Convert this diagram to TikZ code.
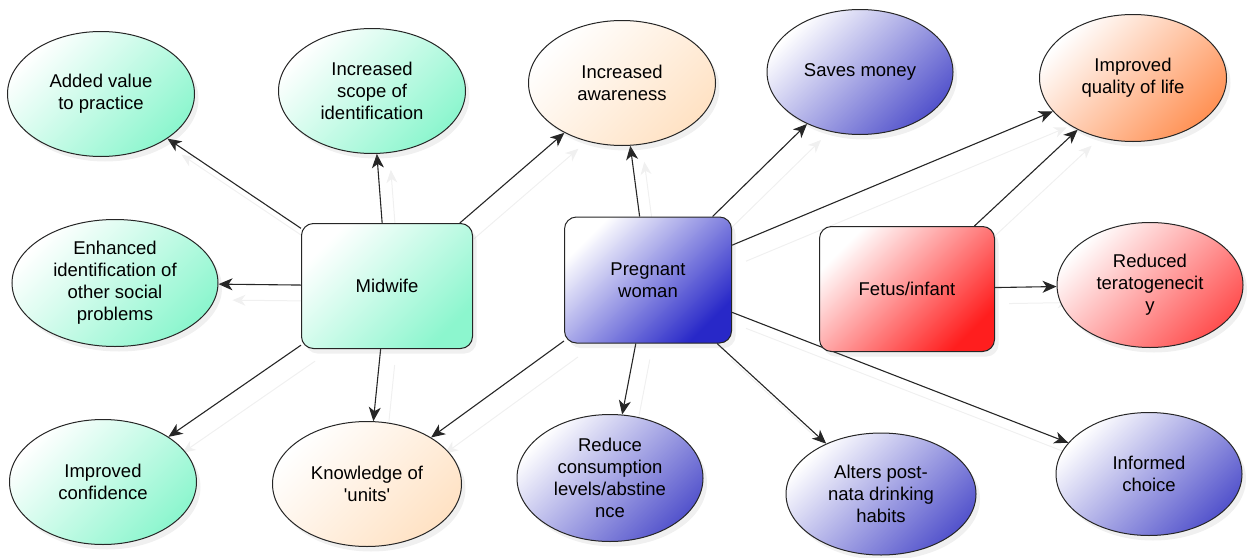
\documentclass[tikz,border=0pt]{standalone}
\usepackage{fontspec}
\setmainfont{Liberation Sans}
\usetikzlibrary{shapes.geometric,arrows.meta,shadows,backgrounds}
\definecolor{cgreen}{RGB}{140,246,206}
\definecolor{cpeach}{RGB}{255,226,196}
\definecolor{cblue}{RGB}{84,84,204}
\definecolor{cdeepblue}{RGB}{40,40,200}
\definecolor{corange}{RGB}{255,146,86}
\definecolor{cred}{RGB}{255,80,80}
\definecolor{cdeepred}{RGB}{255,30,30}
\tikzset{
  base/.style={draw=black!85, line width=1pt, align=center, inner sep=0pt,
    font=\fontsize{18.5}{22}\selectfont,
    drop shadow={opacity=0.12, shadow xshift=4pt, shadow yshift=-5pt}},
  oval/.style={base, ellipse, minimum width=187pt, minimum height=125pt},
  box/.style={base, rectangle, rounded corners=12pt, minimum width=171pt, minimum height=125pt},
  fillc/.style={top color=white, bottom color=#1, shading angle=45},
  conn/.style={draw=black!85, line width=1.1pt, -{Stealth[length=14pt,width=12pt,inset=4pt]}},
  ghost/.style={draw=black!6, line width=1pt, -{Stealth[length=13pt,width=11pt,inset=4pt]},
    transform canvas={shift={(14pt,-16pt)}}}
}
\begin{document}
\begin{tikzpicture}[x=1pt,y=-1pt]
\useasboundingbox (0,0) rectangle (1250,557);
% central boxes
\node[box, fillc=cgreen] (mid) at (387,286) {Midwife};
\node[box, fillc=cdeepblue, minimum width=167pt, minimum height=126pt] (preg) at (648,280) {Pregnant\\woman};
\node[box, fillc=cdeepred, minimum width=175pt] (fet) at (907,289) {Fetus/infant};
% top row
\node[oval, fillc=cgreen] (addval) at (101,94) {Added value\\to practice};
\node[oval, fillc=cgreen] (scope) at (372,91) {Increased\\scope of\\identification};
\node[oval, fillc=cpeach] (aware) at (622,83) {Increased\\awareness};
\node[oval, fillc=cblue, minimum width=186pt] (saves) at (860,72) {Saves money};
\node[oval, fillc=corange, minimum height=127pt] (qual) at (1133,78) {Improved\\quality of life};
% middle row
\node[oval, fillc=cgreen, minimum width=206pt, minimum height=127pt] (enh) at (115,283) {Enhanced\\identification of\\other social\\problems};
\node[oval, fillc=cred, minimum width=186pt] (tera) at (1150,285) {Reduced\\teratogenecit\\y};
% bottom row
\node[oval, fillc=cgreen] (conf) at (103,482) {Improved\\confidence};
\node[oval, fillc=cpeach, minimum width=189pt] (units) at (367,484) {Knowledge of\\\textquotesingle units\textquotesingle};
\node[oval, fillc=cblue, minimum width=186pt, minimum height=127pt] (red) at (610,478) {Reduce\\consumption\\levels/abstine\\nce};
\node[oval, fillc=cblue, minimum width=190pt, minimum height=122pt] (alt) at (881,494) {Alters post-\\nata drinking\\habits};
\node[oval, fillc=cblue, minimum width=186pt, minimum height=123pt] (inf) at (1149,474) {Informed\\choice};
% connectors
\begin{scope}[on background layer]
\foreach \a/\b in {mid/addval, mid/scope, mid/aware, mid/enh, mid/conf, mid/units,
  preg/aware, preg/saves, preg/qual, preg/units, preg/red, preg/alt, preg/inf,
  fet/qual, fet/tera}{
  \draw[ghost] (\a) -- (\b);
  \draw[conn] (\a) -- (\b);
}
\end{scope}
\end{tikzpicture}
\end{document}
